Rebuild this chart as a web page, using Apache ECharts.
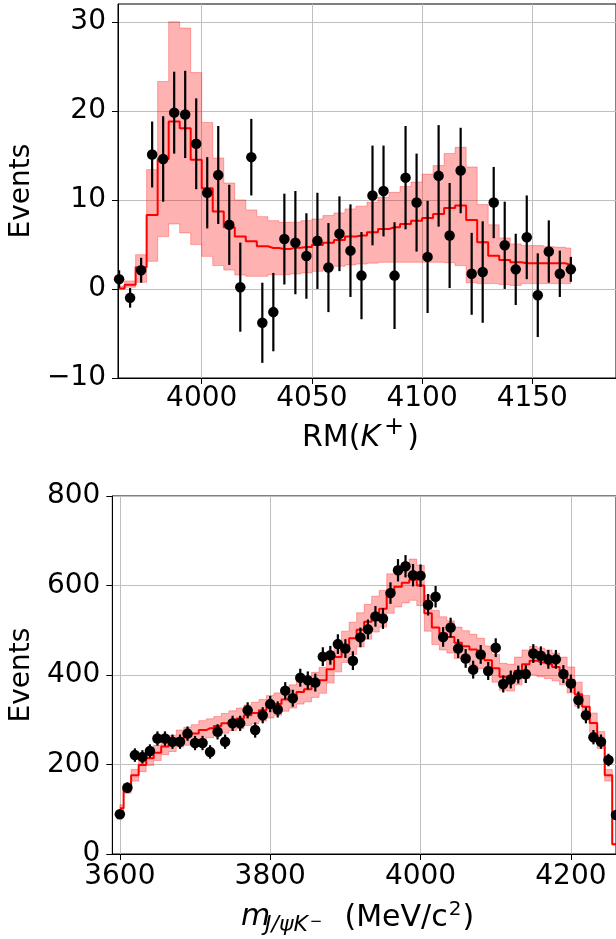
<!DOCTYPE html>
<html>
<head>
<meta charset="utf-8">
<script src="https://cdn.jsdelivr.net/npm/echarts@6/dist/echarts.min.js"></script>
<style>
  html, body { margin: 0; padding: 0; background: #fff; overflow: hidden; }
  #chart { width: 616px; height: 939px; }
</style>
</head>
<body>
<div id="chart"></div>
<script>
// ---- top panel: RM(K+) ----
const topX = [3962.5, 3967.5, 3972.5, 3977.5, 3982.5, 3987.5, 3992.5, 3997.5, 4002.5, 4007.5,
  4012.5, 4017.5, 4022.5, 4027.5, 4032.5, 4037.5, 4042.5, 4047.5, 4052.5, 4057.5,
  4062.5, 4067.5, 4072.5, 4077.5, 4082.5, 4087.5, 4092.5, 4097.5, 4102.5, 4107.5,
  4112.5, 4117.5, 4122.5, 4127.5, 4132.5, 4137.5, 4142.5, 4147.5, 4152.5, 4157.5,
  4162.5, 4167.5];
const topY = [1.1, -1.0, 2.1, 15.1, 14.6, 19.8, 19.6, 16.3, 10.8, 12.8,
  7.2, 0.2, 14.8, -3.8, -2.6, 5.6, 5.2, 3.7, 5.4, 2.4,
  6.2, 4.3, 1.5, 10.5, 11.0, 1.5, 12.5, 9.7, 3.6, 12.7,
  6.0, 13.3, 1.7, 1.9, 9.7, 4.9, 2.2, 5.8, -0.7, 4.2,
  1.7, 2.2];
const topErr = [1.0, 1.1, 1.4, 3.7, 4.8, 4.6, 4.9, 5.1, 4.0, 5.5,
  4.5, 5.0, 4.3, 4.5, 4.4, 5.1, 5.8, 4.8, 5.4, 5.0,
  4.2, 5.2, 4.9, 5.6, 5.1, 6.0, 5.8, 5.5, 6.3, 5.7,
  5.9, 4.8, 4.6, 5.7, 4.0, 4.9, 4.0, 4.7, 4.7, 3.5,
  2.6, 1.4];
const topFit = [0.05, 0.48, 2.43, 8.3, 14.6, 18.8, 18.05, 14.5, 11.3, 8.69,
  6.92, 5.88, 5.35, 4.79, 4.6, 4.49, 4.64, 4.7, 4.94, 5.2,
  5.5, 5.88, 6.0, 6.36, 6.74, 6.92, 7.3, 7.67, 7.97, 8.43,
  9.1, 9.36, 7.75, 5.24, 3.74, 3.26, 3.0, 2.88, 2.88, 2.88,
  2.88, 2.7];
const topHi = [0.3, 0.9, 3.85, 13.4, 23.3, 30.0, 29.3, 24.3, 18.7, 14.7,
  11.9, 10.0, 8.88, 8.12, 7.67, 7.48, 7.5, 7.67, 7.86, 8.24,
  8.54, 8.99, 9.3, 9.73, 10.3, 10.85, 11.5, 12.0, 12.9, 13.85,
  15.2, 15.9, 13.7, 9.47, 7.2, 5.73, 5.06, 4.87, 4.87, 4.75,
  4.68, 4.6];
const topLo = [0.0, 0.2, 0.74, 3.1, 5.88, 7.3, 6.29, 4.98, 3.66, 2.62,
  2.13, 1.57, 1.42, 1.42, 1.6, 1.6, 1.68, 1.8, 1.98, 2.25,
  2.55, 2.7, 2.8, 2.9, 3.0, 3.0, 3.0, 3.0, 3.0, 3.0,
  2.95, 2.62, 0.7, 0.6, 0.6, 0.5, 0.4, 0.6, 0.6, 0.6,
  0.6, 0.6];
const topXTicks = [4000, 4050, 4100, 4150];
const topYTicks = [-10, 0, 10, 20, 30];

// ---- bottom panel: m(J/psi K-) ----
const botX = [3600, 3610, 3620, 3630, 3640, 3650, 3660, 3670, 3680, 3690,
  3700, 3710, 3720, 3730, 3740, 3750, 3760, 3770, 3780, 3790,
  3800, 3810, 3820, 3830, 3840, 3850, 3860, 3870, 3880, 3890,
  3900, 3910, 3920, 3930, 3940, 3950, 3960, 3970, 3980, 3990,
  4000, 4010, 4020, 4030, 4040, 4050, 4060, 4070, 4080, 4090,
  4100, 4110, 4120, 4130, 4140, 4150, 4160, 4170, 4180, 4190,
  4200, 4210, 4220, 4230, 4240, 4250, 4260];
const botY = [89, 148, 221, 217, 230, 258, 258, 251, 251, 269,
  248, 248, 228, 273, 251, 292, 292, 321, 277, 310,
  335, 323, 365, 348, 394, 388, 383, 441, 444, 469,
  459, 432, 484, 502, 531, 526, 583, 634, 643, 623,
  622, 557, 575, 485, 506, 459, 437, 412, 446, 409,
  461, 380, 390, 401, 402, 448, 443, 435, 435, 402,
  381, 344, 310, 261, 251, 210, 87];
const botErr = [9, 12, 15, 15, 15, 16, 16, 16, 16, 16,
  16, 16, 15, 17, 16, 17, 17, 18, 17, 18,
  18, 18, 19, 19, 20, 20, 20, 21, 21, 22,
  21, 21, 22, 22, 23, 23, 24, 25, 25, 25,
  25, 24, 24, 22, 22, 21, 21, 20, 21, 20,
  21, 19, 20, 20, 20, 21, 21, 21, 21, 20,
  20, 19, 18, 16, 16, 14, 9];
const botFit = [102, 147, 176, 199, 214, 226, 240, 247, 258, 263,
  269, 277, 281, 286, 292, 298, 303, 310, 315, 321,
  329, 335, 345, 352, 362, 368, 378, 388, 413, 440,
  463, 482, 501, 519, 536, 548, 582, 597, 606, 613,
  600, 538, 506, 493, 485, 472, 464, 457, 448, 433,
  415, 396, 394, 409, 424, 432, 428, 424, 418, 409,
  389, 357, 329, 293, 255, 176, 22];
const botBand = [8, 11, 13, 15, 16, 17, 18, 18, 19, 20,
  20, 21, 21, 21, 22, 22, 23, 23, 24, 24,
  25, 25, 26, 26, 27, 28, 28, 29, 31, 33,
  35, 36, 38, 39, 40, 41, 44, 45, 45, 46,
  45, 40, 38, 37, 36, 35, 35, 34, 34, 32,
  31, 30, 30, 31, 32, 32, 32, 32, 31, 31,
  29, 27, 25, 22, 19, 13, 2];
const botXTicks = [3600, 3800, 4000, 4200];
const botYTicks = [0, 200, 400, 600, 800];

const FONT = 'DejaVu Sans';
const BAND = 'rgba(255,0,0,0.3)';
const zip = (xs, ys) => xs.map((x, i) => [x, ys[i]]);

function errorBars(params, api) {
  const x = api.value(0), y = api.value(1), e = api.value(2);
  const a = api.coord([x, y - e]);
  const b = api.coord([x, y + e]);
  return {
    type: 'line',
    shape: { x1: a[0], y1: a[1], x2: b[0], y2: b[1] },
    style: { stroke: '#000', lineWidth: 2.2 }
  };
}

// step-shaped band (same steps as step:'middle'), drawn as one polygon
function bandRenderer(xs, lo, hi) {
  return function (params, api) {
    const n = xs.length, up = [], dn = [];
    for (let i = 0; i < n; i++) {
      const l = i === 0 ? xs[0] : (xs[i - 1] + xs[i]) / 2;
      const r = i === n - 1 ? xs[n - 1] : (xs[i] + xs[i + 1]) / 2;
      up.push(api.coord([l, hi[i]]), api.coord([r, hi[i]]));
      dn.push(api.coord([l, lo[i]]), api.coord([r, lo[i]]));
    }
    return {
      type: 'polygon',
      shape: { points: up.concat(dn.reverse()) },
      style: { fill: BAND, stroke: BAND, lineWidth: 1 }
    };
  };
}

function axisCommon(ticks, margin) {
  return {
    axisLine: { show: true, onZero: false, lineStyle: { color: '#000', width: 1 } },
    axisTick: { show: true, length: 6, customValues: ticks, lineStyle: { color: '#000', width: 1 } },
    splitLine: { show: true, lineStyle: { color: '#bfbfbf', width: 1 } },
    axisLabel: {
      customValues: ticks, margin: margin, color: '#000', fontSize: 28, fontFamily: FONT,
      formatter: v => String(v).replace('-', '\u2212')
    }
  };
}

function panelSeries(idx, xs, ys, errs, fit, lo, hi) {
  const ax = { xAxisIndex: idx, yAxisIndex: idx };
  return [
    Object.assign({
      type: 'custom', renderItem: bandRenderer(xs, lo, hi), clip: true, silent: true, z: 1,
      encode: { x: 0, y: 1 }, data: [[xs[0], lo[0]]]
    }, ax),
    Object.assign({
      type: 'line', data: zip(xs, fit), step: 'middle', symbol: 'none', z: 2, silent: true,
      lineStyle: { color: '#ff0000', width: 2 }
    }, ax),
    Object.assign({
      type: 'custom', renderItem: errorBars, z: 3, silent: true,
      encode: { x: 0, y: 1 },
      data: xs.map((x, i) => [x, ys[i], errs[i]])
    }, ax),
    Object.assign({
      type: 'scatter', data: zip(xs, ys), symbol: 'circle', symbolSize: 10.5, z: 4,
      itemStyle: { color: '#000', opacity: 1 }
    }, ax)
  ];
}

// axis titles with sub/superscripts: pieces set on a baseline, flowing left to right
const measureCtx = document.createElement('canvas').getContext('2d');
function fontStr(size, italic) {
  return (italic ? 'italic ' : '') + size + 'px "' + FONT + '"';
}
function titlePieces(pieces) {
  let cursor = 0;
  return pieces.map(p => {
    measureCtx.font = fontStr(p.size, p.italic);
    const m = measureCtx.measureText(p.text);
    const mid = (m.fontBoundingBoxAscent - m.fontBoundingBoxDescent) / 2;
    const x = p.x != null ? p.x : cursor + (p.dx || 0);
    cursor = x + m.width;
    return {
      type: 'text', x: x, y: p.base - mid + 2.5, silent: true, z: 10,
      style: {
        text: p.text, fill: '#000', font: fontStr(p.size, p.italic),
        align: 'left', verticalAlign: 'middle'
      }
    };
  });
}
const topTitle = [
  { text: 'RM(', x: 302, base: 446.5, size: 30 },
  { text: 'K', dx: 0, base: 446.5, size: 30, italic: true },
  { text: '+', dx: 4, base: 433.5, size: 24 },
  { text: ')', dx: 3, base: 446.5, size: 30 }
];
const botTitle = [
  { text: 'm', x: 241, base: 925.5, size: 30, italic: true },
  { text: 'J/\u03c8K', x: 265, base: 930.5, size: 22, italic: true },
  { text: '\u2212', dx: 2, base: 925, size: 15 },
  { text: '(MeV/c', x: 344.5, base: 926, size: 30 },
  { text: '2', dx: 1, base: 914.5, size: 20 },
  { text: ')', dx: 1, base: 926, size: 30 }
];

const chart = echarts.init(document.getElementById('chart'), null, { renderer: 'canvas' });

const option = {
  animation: false,
  backgroundColor: '#fff',
  grid: [
    { left: 108, top: 4, width: 511, height: 374, show: true, borderColor: '#000', borderWidth: 1 },
    { left: 103, top: 496, width: 515, height: 358, show: true, borderColor: '#000', borderWidth: 1 }
  ],
  xAxis: [
    Object.assign({ type: 'value', gridIndex: 0, min: 3962, max: 4188 }, axisCommon(topXTicks, 7)),
    Object.assign({ type: 'value', gridIndex: 1, min: 3590, max: 4260 }, axisCommon(botXTicks, 9))
  ],
  yAxis: [
    Object.assign({
      type: 'value', gridIndex: 0, min: -10, max: 32,
      name: 'Events', nameLocation: 'middle', nameGap: 72,
      nameTextStyle: { color: '#000', fontSize: 28, fontFamily: FONT }
    }, axisCommon(topYTicks, 12)),
    Object.assign({
      type: 'value', gridIndex: 1, min: 0, max: 800,
      name: 'Events', nameLocation: 'middle', nameGap: 67,
      nameTextStyle: { color: '#000', fontSize: 28, fontFamily: FONT }
    }, axisCommon(botYTicks, 12))
  ],
  graphic: titlePieces(topTitle).concat(titlePieces(botTitle)),
  series: [].concat(
    panelSeries(0, topX, topY, topErr, topFit, topLo, topHi),
    panelSeries(1, botX, botY, botErr, botFit,
      botFit.map((v, i) => v - botBand[i]), botFit.map((v, i) => v + botBand[i]))
  )
};

chart.setOption(option);
</script>
</body>
</html>
